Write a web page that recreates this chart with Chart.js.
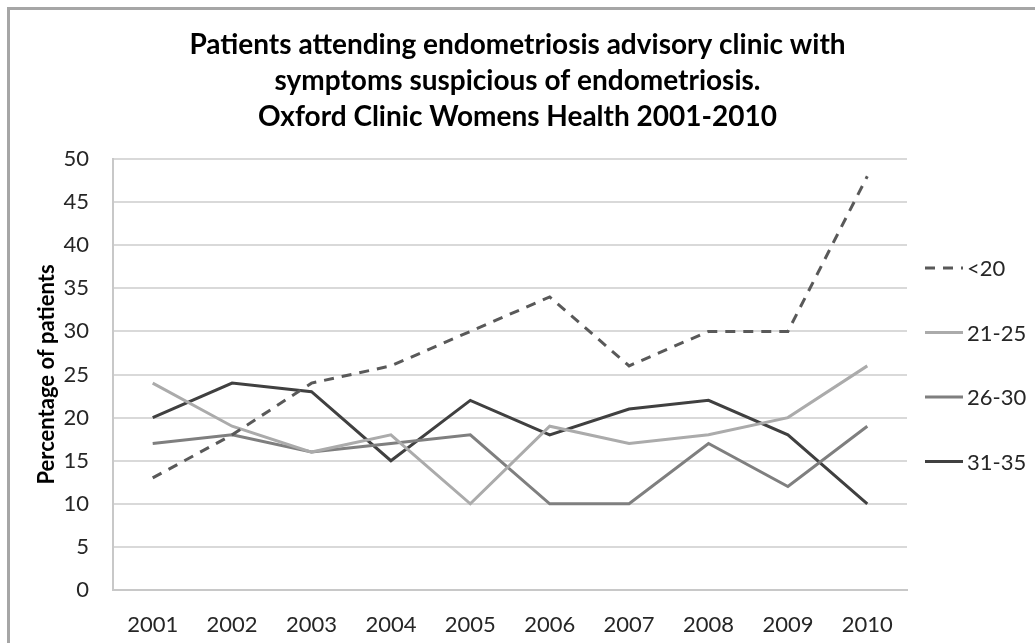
<!DOCTYPE html>
<html>
<head>
<meta charset="utf-8">
<title>Endometriosis advisory clinic</title>
<script src="https://cdn.jsdelivr.net/npm/chart.js@4/dist/chart.umd.min.js"></script>
<style>
    body { margin: 0; background: #fff; }
    #wrap { position: relative; width: 1035px; height: 643px; }
</style>
</head>
<body>
<div id="wrap"><canvas id="lineChart" width="1035" height="643"></canvas></div>
<script>
const years = ['2001', '2002', '2003', '2004', '2005', '2006', '2007', '2008', '2009', '2010'];
const under20 = [13, 18, 24, 26, 30, 34, 26, 30, 30, 48];
const age21to25 = [24, 19, 16, 18, 10, 19, 17, 18, 20, 26];
const age26to30 = [17, 18, 16, 17, 18, 10, 10, 17, 12, 19];
const age31to35 = [20, 24, 23, 15, 22, 18, 21, 22, 18, 10];
const seriesNames = ['<20', '21-25', '26-30', '31-35'];
const titleLines = [
    'Patients attending endometriosis advisory clinic with',
    'symptoms suspicious of endometriosis.',
    'Oxford Clinic Womens Health 2001-2010'
];
const yAxisTitle = 'Percentage of patients';

const fontFamily = "Lato, 'Liberation Sans', Arial, sans-serif";

// frame round the whole chart, y axis title and the legend on the right
const frameAndLegend = {
    id: 'frameAndLegend',
    beforeDraw(chart) {
        const ctx = chart.ctx;
        ctx.save();
        ctx.strokeStyle = '#a6a6a6';
        ctx.lineWidth = 3;
        ctx.strokeRect(8.5, 8.5, 1200, 800);
        ctx.restore();
    },
    afterDraw(chart) {
        const ctx = chart.ctx;
        const area = chart.chartArea;
        ctx.save();
        // rotated axis title, centred on the plot area
        ctx.translate(area.left - 66, (area.top + area.bottom) / 2);
        ctx.rotate(-Math.PI / 2);
        ctx.font = 'bold 22px ' + fontFamily;
        ctx.fillStyle = '#000';
        ctx.textAlign = 'center';
        ctx.textBaseline = 'middle';
        ctx.fillText(yAxisTitle, 0, 0);
        ctx.restore();

        ctx.save();
        ctx.font = '22px ' + fontFamily;
        ctx.textBaseline = 'middle';
        chart.data.datasets.forEach(function (ds, i) {
            const y = 268 + i * 64.5;
            const x0 = area.right + 18;
            ctx.strokeStyle = ds.borderColor;
            ctx.lineWidth = ds.borderWidth;
            ctx.setLineDash(ds.borderDash || []);
            ctx.beginPath();
            ctx.moveTo(x0, y);
            ctx.lineTo(x0 + 38, y);
            ctx.stroke();
            ctx.setLineDash([]);
            ctx.fillStyle = '#262626';
            ctx.fillText(ds.label, x0 + 42, y + 1);
        });
        ctx.restore();
    }
};

const ctx = document.getElementById('lineChart').getContext('2d');
new Chart(ctx, {
    type: 'line',
    data: {
        labels: years,
        datasets: [
            { label: seriesNames[0], data: under20, borderColor: '#595959', borderWidth: 3, borderDash: [10, 8] },
            { label: seriesNames[1], data: age21to25, borderColor: '#ababab', borderWidth: 3 },
            { label: seriesNames[2], data: age26to30, borderColor: '#7f7f7f', borderWidth: 3 },
            { label: seriesNames[3], data: age31to35, borderColor: '#404040', borderWidth: 3 }
        ]
    },
    options: {
        responsive: false,
        animation: false,
        events: [],
        elements: {
            point: { radius: 0 },
            line: { tension: 0, fill: false, borderCapStyle: 'butt' }
        },
        layout: { padding: 0 },
        plugins: {
            legend: { display: false },
            tooltip: { enabled: false },
            title: {
                display: true,
                text: titleLines,
                color: '#000',
                font: { family: fontFamily, size: 28, weight: 'bold', lineHeight: '36px' },
                padding: { top: 27, bottom: 24 }
            }
        },
        scales: {
            x: {
                offset: true,
                grid: { display: false, drawTicks: false },
                border: { display: true, color: '#c8c8c8', width: 2 },
                ticks: { color: '#262626', font: { family: fontFamily, size: 22 }, padding: 22, maxRotation: 0 },
                afterFit: function (scale) { scale.height = 53; }
            },
            y: {
                min: 0,
                max: 50,
                ticks: { stepSize: 5, color: '#262626', font: { family: fontFamily, size: 22 }, padding: 24 },
                grid: { color: '#d9d9d9', lineWidth: 2, drawTicks: false },
                border: { display: true, color: '#c8c8c8', width: 2 },
                afterFit: function (scale) { scale.width = 113; }
            },
            // empty right-hand box that keeps room for the legend
            legendSpace: {
                type: 'linear',
                position: 'right',
                display: true,
                grid: { display: false, drawTicks: false },
                border: { display: false },
                ticks: { display: false },
                afterFit: function (scale) { scale.width = 128; }
            }
        }
    },
    plugins: [frameAndLegend]
});
</script>
</body>
</html>
